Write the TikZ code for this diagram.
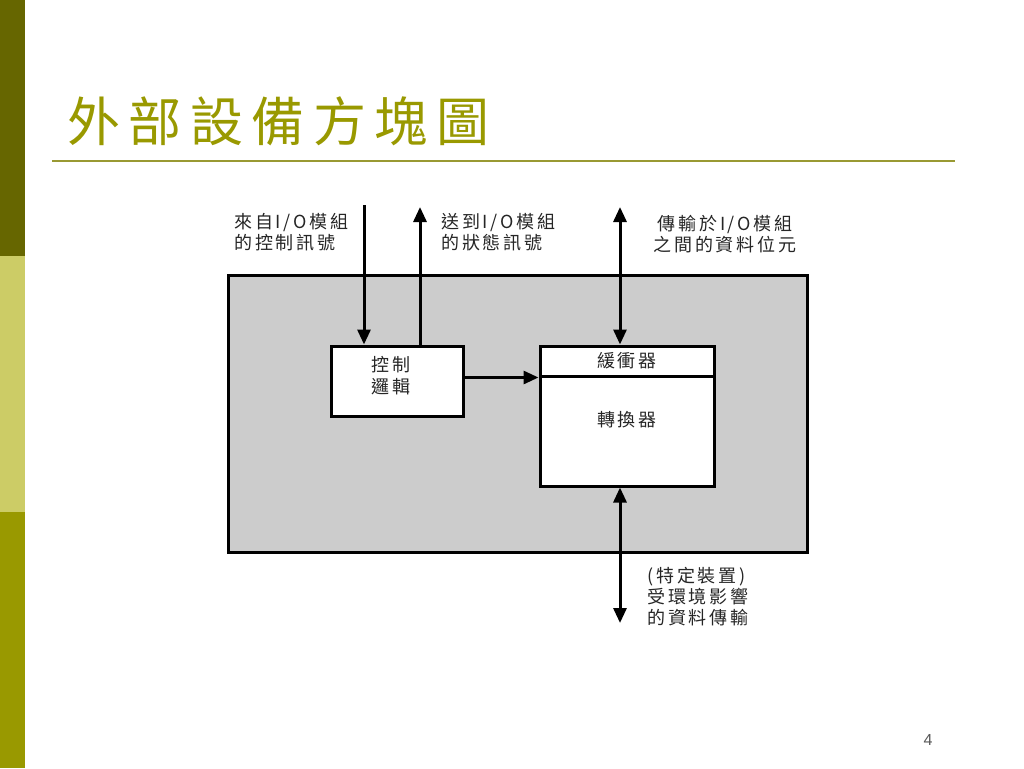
\documentclass[tikz,border=0pt]{standalone}
\usepackage{fontspec}
\setmainfont{Liberation Sans}
\newfontfamily\cjk[LetterSpace=16]{Noto Sans CJK TC}
\newfontfamily\titlefont[LetterSpace=16]{Noto Sans CJK TC}
\usetikzlibrary{arrows.meta}
\definecolor{bardark}{HTML}{666600}
\definecolor{barlight}{HTML}{CCCC66}
\definecolor{barolive}{HTML}{999900}
\definecolor{titlecol}{HTML}{999900}
\definecolor{rulecol}{HTML}{999933}
\definecolor{boxgray}{HTML}{CCCCCC}
\definecolor{labelcol}{HTML}{262626}
\newcommand{\IOtxt}{I\hspace{2.5pt}/\hspace{2.5pt}O}
\tikzset{
  lbl/.style={font=\cjk\fontsize{18}{21}\selectfont, text=labelcol, inner sep=0pt},
  whitebox/.style={draw=black, line width=3pt, fill=white, inner sep=0pt, font=\cjk\fontsize{18}{22}\selectfont, text=labelcol, align=center},
  sig/.style={line width=3pt, -{Triangle[length=15pt,width=13pt]}},
  bisig/.style={line width=3pt, {Triangle[length=15pt,width=13pt]}-{Triangle[length=15pt,width=13pt]}}
}
\begin{document}
\begin{tikzpicture}[x=1pt,y=-1pt]
\useasboundingbox (0,0) rectangle (1024,768);
\fill[white] (0,0) rectangle (1024,768);
% side bar
\fill[bardark] (0,0) rectangle (25,256);
\fill[barlight] (0,256) rectangle (25,512);
\fill[barolive] (0,512) rectangle (25,768);
% title
\node[anchor=west, inner sep=0pt, text=titlecol, font=\titlefont\fontsize{53}{60}\selectfont] (title) at (67,121) {外部設備方塊圖};
\draw[rulecol, line width=2.2pt] (52,161) -- (955,161);
% outer gray box
\node[draw=black, line width=3pt, fill=boxgray, minimum width=579pt, minimum height=277pt, inner sep=0pt] (dev) at (517.5,413.5) {};
% inner boxes
\node[whitebox, minimum width=132pt, minimum height=70pt] (ctrl) at (397,381) {};
\node[font=\cjk\fontsize{18}{22}\selectfont, text=labelcol, align=center, inner sep=0pt] (ctrllbl) at (391,376) {控制\\邏輯};
\node[whitebox, minimum width=174pt, minimum height=30pt, text depth=2pt] (buf) at (627,361) {緩衝器};
\node[whitebox, minimum width=174pt, minimum height=110pt, text depth=24pt] (conv) at (627,431) {轉換器};
% free ends
\coordinate (c1) at (364,205);
\coordinate (c2) at (420,207);
\coordinate (c3) at (620,207);
\coordinate (c4) at (620,623);
% connectors
\draw[sig] (c1) -- (c1 |- ctrl.north);
\draw[sig] (c2 |- ctrl.north) -- (c2);
\draw[bisig] (c3) -- (c3 |- buf.north);
\draw[bisig] (c4 |- conv.south) -- (c4);
\draw[sig] (ctrl.east |- buf.south) -- (buf.south west);
% labels
\node[lbl, anchor=north west, align=left] (l1) at (234,213) {來自\IOtxt 模組\\的控制訊號};
\node[lbl, anchor=north west, align=left] (l2) at (441,213) {送到\IOtxt 模組\\的狀態訊號};
\node[lbl, anchor=north, align=center] (l3) at (725,215) {傳輸於\IOtxt 模組\\之間的資料位元};
\node[lbl, anchor=north west, align=left] (l4) at (647,567) {(特定裝置)\\受環境影響\\的資料傳輸};
% page number
\node[text=gray!70!black, font=\fontsize{16}{18}\selectfont, inner sep=0pt] (pg) at (928,740) {4};
\end{tikzpicture}
\end{document}
